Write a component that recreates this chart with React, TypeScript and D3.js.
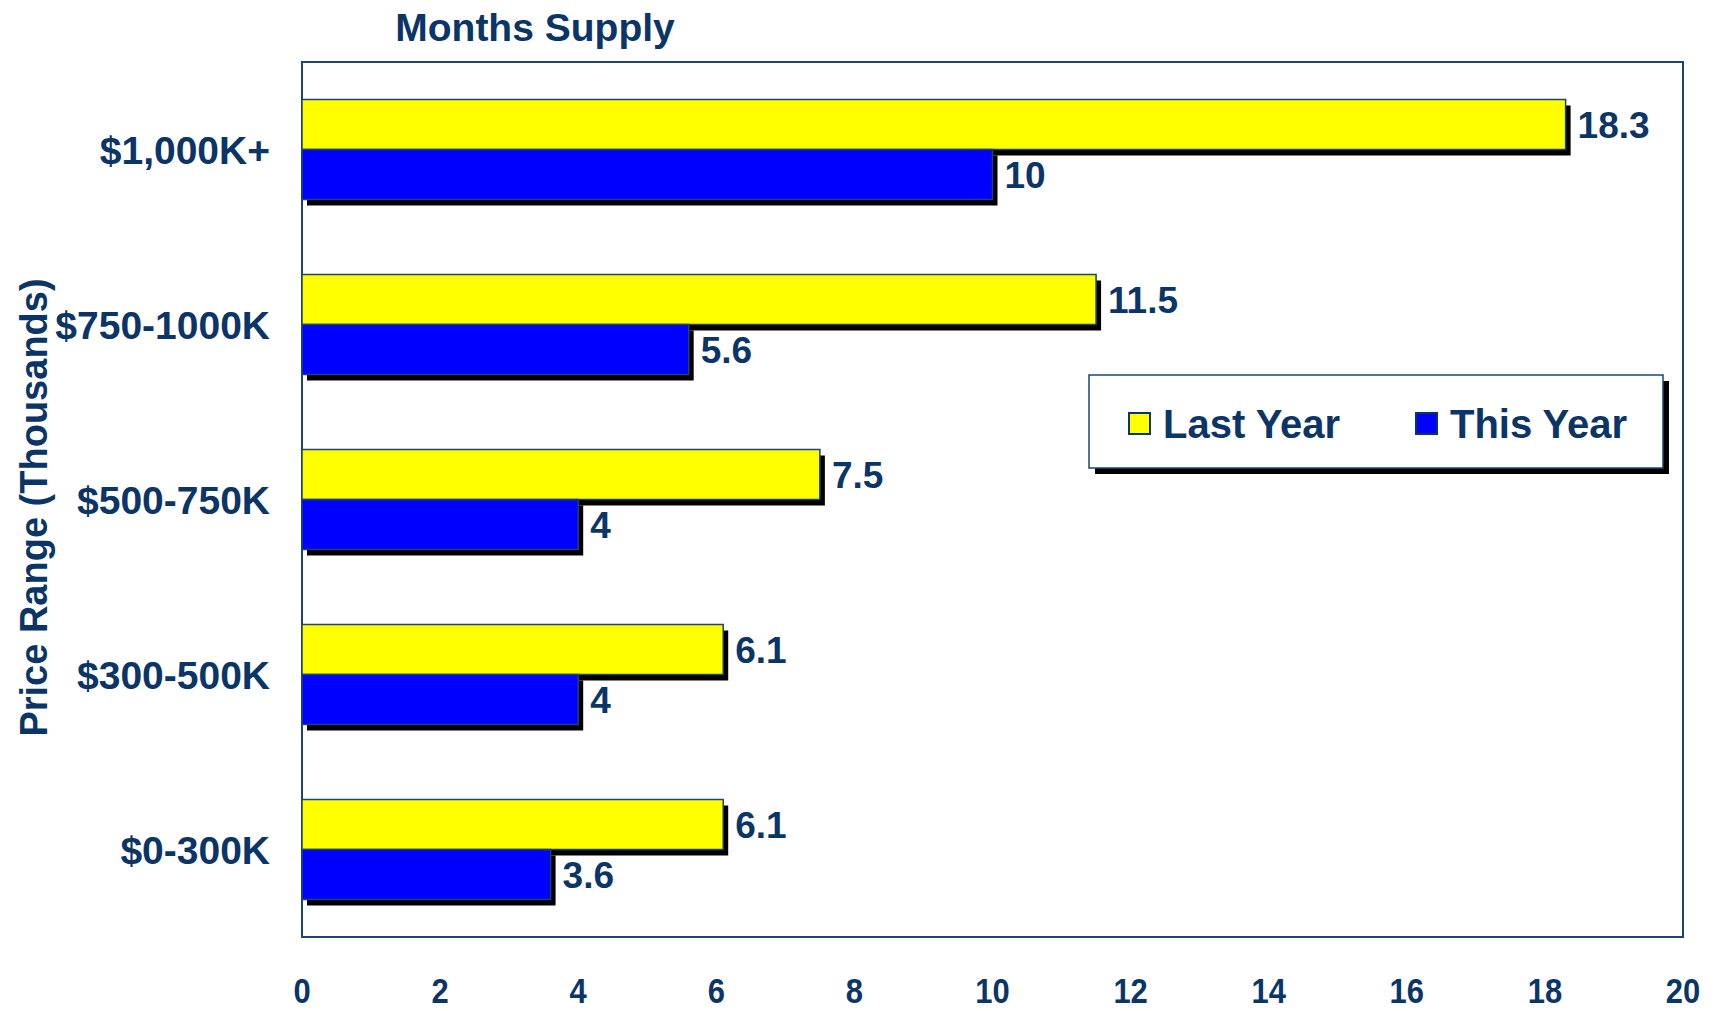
import React from "react";
import * as d3 from "d3";

const categories = ["$1,000K+", "$750-1000K", "$500-750K", "$300-500K", "$0-300K"];
const seriesNames = ["Last Year", "This Year"];
const lastYear = [18.3, 11.5, 7.5, 6.1, 6.1];
const thisYear = [10, 5.6, 4, 4, 3.6];
const xTicks = [0, 2, 4, 6, 8, 10, 12, 14, 16, 18, 20];
const seriesColors = ["#ffff00", "#0000ff"];

const W = 1716;
const H = 1011;
const plot = { left: 302, right: 1683, top: 62, bottom: 937 };
const navy = "#0b3566";
const frameColor = "#1d4472";
const font = "'Liberation Sans', Arial, Helvetica, sans-serif";

export default function App() {
  const x = d3.scaleLinear().domain([0, 20]).range([plot.left, plot.right]);
  const y = d3
    .scaleBand<string>()
    .domain(categories)
    .range([plot.top, plot.bottom])
    .paddingInner(0.4286)
    .paddingOuter(0.2143);
  const ys = d3.scaleBand<string>().domain(seriesNames).range([0, y.bandwidth()]);
  const values = [lastYear, thisYear];
  const sdx = 5;
  const sdy = 6;

  const bars: { cat: string; s: number; v: number }[] = [];
  categories.forEach((c, i) => {
    seriesNames.forEach((_, s) => bars.push({ cat: c, s, v: values[s][i] }));
  });

  const legend = { x: 1089, y: 375, w: 574, h: 93 };

  return (
    <svg
      width={W}
      height={H}
      style={{ position: "absolute", left: 0, top: 0, background: "#fff" }}
      fontFamily={font}
    >
      <rect x={0} y={0} width={W} height={H} fill="#fff" />
      {/* title */}
      <text x={535} y={41} textAnchor="middle" fontSize={39} fontWeight="bold" fill={navy}>
        Months Supply
      </text>
      {/* frame */}
      <rect
        x={plot.left}
        y={plot.top}
        width={plot.right - plot.left}
        height={plot.bottom - plot.top}
        fill="#fff"
        stroke={frameColor}
        strokeWidth={2}
      />
      {/* shadows */}
      {bars.map((b, i) => (
        <rect
          key={"sh" + i}
          x={x(0) + sdx}
          y={(y(b.cat) as number) + (ys(seriesNames[b.s]) as number) + sdy}
          width={x(b.v) - x(0)}
          height={ys.bandwidth()}
          fill="#000"
        />
      ))}
      {/* bars */}
      {bars.map((b, i) => (
        <rect
          key={"b" + i}
          x={x(0)}
          y={(y(b.cat) as number) + (ys(seriesNames[b.s]) as number)}
          width={x(b.v) - x(0)}
          height={ys.bandwidth()}
          fill={seriesColors[b.s]}
          stroke={frameColor}
          strokeWidth={1.5}
        />
      ))}
      {/* value labels */}
      {bars.map((b, i) => (
        <text
          key={"l" + i}
          x={x(b.v) + 12}
          y={(y(b.cat) as number) + (ys(seriesNames[b.s]) as number) + ys.bandwidth() / 2}
          dy="0.36em"
          fontSize={37}
          fontWeight="bold"
          fill={navy}
        >
          {String(b.v)}
        </text>
      ))}
      {/* category labels */}
      {categories.map((c) => (
        <text
          key={c}
          x={270}
          y={(y(c) as number) + y.bandwidth() / 2}
          dy="0.36em"
          textAnchor="end"
          fontSize={39}
          fontWeight="bold"
          fill={navy}
        >
          {c}
        </text>
      ))}
      {/* y title */}
      <text
        transform={`translate(47, ${(plot.top + plot.bottom) / 2 + 8}) rotate(-90)`}
        textAnchor="middle"
        fontSize={38}
        fontWeight="bold"
        fill={navy}
      >
        Price Range (Thousands)
      </text>
      {/* x ticks */}
      {xTicks.map((t) => (
        <text
          key={t}
          transform={`translate(${x(t)}, 1003) scale(0.86, 1)`}
          textAnchor="middle"
          fontSize={36}
          fontWeight="bold"
          fill={navy}
        >
          {t}
        </text>
      ))}
      {/* legend */}
      <rect x={legend.x + 6} y={legend.y + 6} width={legend.w} height={legend.h} fill="#000" />
      <rect
        x={legend.x}
        y={legend.y}
        width={legend.w}
        height={legend.h}
        fill="#fff"
        stroke={frameColor}
        strokeWidth={1.5}
      />
      {seriesNames.map((s, i) => {
        const lx = i === 0 ? 1129 : 1416;
        return (
          <g key={s}>
            <rect
              x={lx}
              y={413}
              width={21}
              height={21}
              fill={seriesColors[i]}
              stroke={navy}
              strokeWidth={2}
            />
            <text x={lx + 34} y={424} dy="0.36em" fontSize={40} fontWeight="bold" fill={navy}>
              {s}
            </text>
          </g>
        );
      })}
    </svg>
  );
}
